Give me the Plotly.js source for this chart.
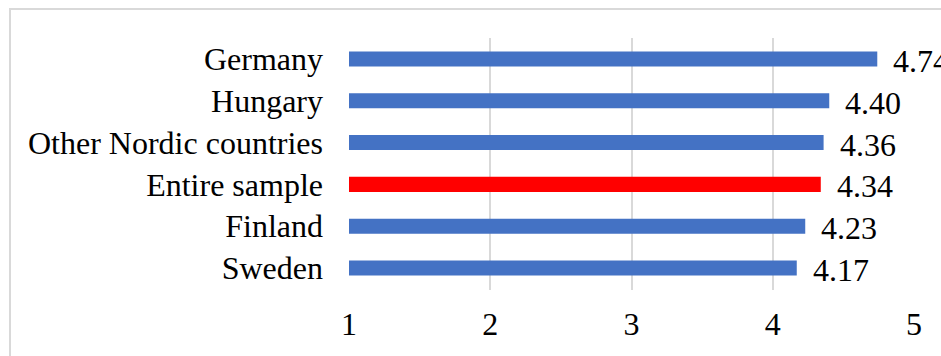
<!DOCTYPE html>
<html>
<head>
<meta charset="utf-8">
<script src="https://cdn.plot.ly/plotly-3.0.1.min.js"></script>
<style>
  html, body { margin: 0; padding: 0; background: #ffffff; overflow: hidden; }
  #frame {
    position: absolute; left: 9px; top: 8px; width: 960px; height: 400px;
    border-left: 2px solid #d9d9d9; border-top: 2px solid #d9d9d9;
  }
  #chart { position: absolute; left: 0; top: 0; width: 941px; height: 356px; }
</style>
</head>
<body>
<div id="frame"></div>
<div id="chart"></div>
<script>
// Mean scores by group, listed top to bottom
const groups = ["Germany", "Hungary", "Other Nordic countries", "Entire sample", "Finland", "Sweden"];
const scores = [4.74, 4.40, 4.36, 4.34, 4.23, 4.17];
const barColors = ["#4472C4", "#4472C4", "#4472C4", "#FF0000", "#4472C4", "#4472C4"];
const tickValues = [1, 2, 3, 4, 5];

const serif = "Liberation Serif, Times New Roman, serif";
const textSize = 32;

const trace = {
  type: "bar",
  orientation: "h",
  y: groups,
  x: scores,
  marker: { color: barColors, line: { width: 0 } },
  hoverinfo: "skip"
};

// Value labels placed just past each bar end
const labels = groups.map((g, i) => ({
  x: scores[i],
  y: g,
  xref: "x",
  yref: "y",
  text: scores[i].toFixed(2),
  showarrow: false,
  xanchor: "left",
  yanchor: "middle",
  xshift: 14,
  yshift: -2,
  font: { family: serif, size: textSize, color: "#000000" }
}));

const layout = {
  width: 941,
  height: 356,
  margin: { l: 349, r: 27, t: 38, b: 66, pad: 0 },
  paper_bgcolor: "rgba(0,0,0,0)",
  plot_bgcolor: "rgba(0,0,0,0)",
  bargap: 0.64,
  showlegend: false,
  font: { family: serif, size: textSize, color: "#000000" },
  xaxis: {
    range: [1, 5],
    tickvals: tickValues,
    ticktext: tickValues.map(String),
    showgrid: true,
    gridcolor: "#d9d9d9",
    gridwidth: 2,
    zeroline: false,
    showline: false,
    ticks: "",
    ticklabelstandoff: 12,
    tickfont: { family: serif, size: textSize, color: "#000000" },
    fixedrange: true
  },
  yaxis: {
    type: "category",
    categoryorder: "array",
    categoryarray: groups.slice().reverse(),
    showgrid: false,
    zeroline: false,
    showline: false,
    ticks: "",
    ticklabelstandoff: 25,
    tickfont: { family: serif, size: textSize, color: "#000000" },
    fixedrange: true
  },
  annotations: labels
};

Plotly.newPlot("chart", [trace], layout, { staticPlot: true, displayModeBar: false });
</script>
</body>
</html>
